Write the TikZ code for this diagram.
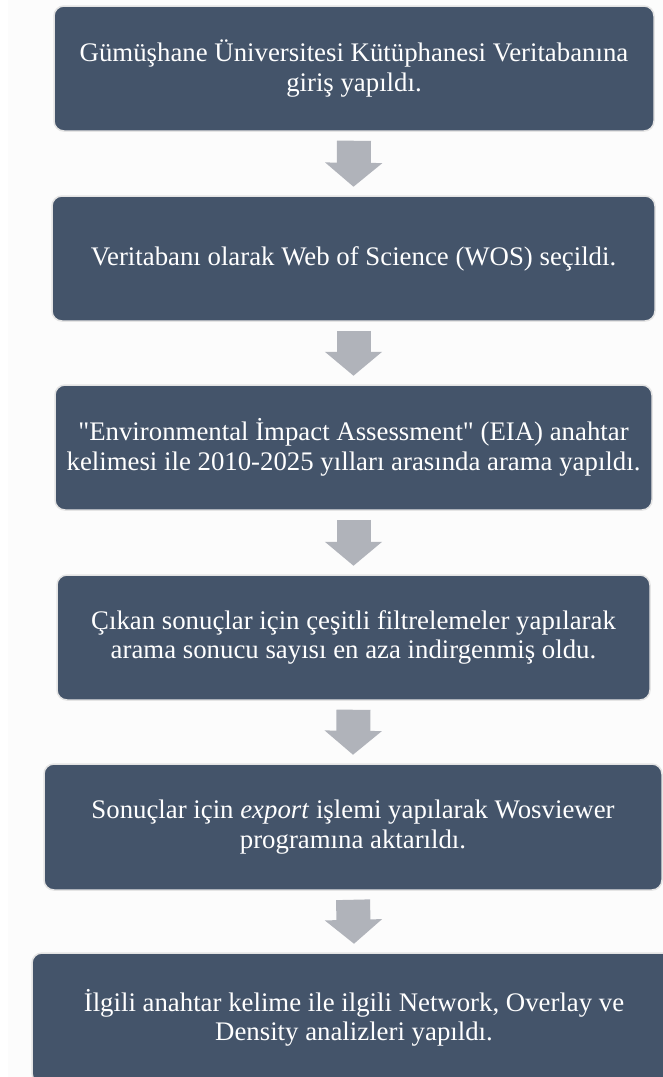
\documentclass[tikz,border=0pt]{standalone}
\usepackage{fontspec}
\setmainfont{Liberation Serif}
\usetikzlibrary{arrows.meta}

\definecolor{boxblue}{RGB}{68,84,106}
\definecolor{arrowgray}{RGB}{176,179,186}
\definecolor{rimgray}{RGB}{228,228,228}
\definecolor{pagegray}{RGB}{252,252,252}

\tikzstyle{stage}=[draw=rimgray,line width=1.5pt,fill=boxblue,rounded corners=10pt,text=white,align=center,minimum height=125pt,inner sep=0pt,font=\fontsize{26.8}{29.5}\selectfont]
\tikzstyle{flow}=[draw=arrowgray,line width=34pt,-{Triangle[width=56pt,length=24pt]}]

\begin{document}
\begin{tikzpicture}[x=1pt,y=-1pt]
    \useasboundingbox (0,0) rectangle (663,1077);
    \fill[pagegray] (8,0) rectangle (663,1077);
    % the six steps
    \node[stage,minimum width=600pt] (giris) at (354,68.5) {Gümüşhane Üniversitesi Kütüphanesi Veritabanına\\giriş yapıldı.};
    \node[stage,minimum width=603pt] (wos) at (353.5,258.5) {Veritabanı olarak Web of Science (WOS) seçildi.};
    \node[stage,minimum width=597pt] (arama) at (353.5,447.5) {\textquotedbl Environmental İmpact Assessment\textquotedbl{} (EIA) anahtar\\kelimesi ile 2010-2025 yılları arasında arama yapıldı.};
    \node[stage,minimum width=593pt] (filtre) at (353.5,637.5) {Çıkan sonuçlar için çeşitli filtrelemeler yapılarak\\arama sonucu sayısı en aza indirgenmiş oldu.};
    \node[stage,minimum width=618pt,minimum height=126pt] (aktar) at (353,827) {Sonuçlar için \textit{export} işlemi yapılarak Wosviewer\\programına aktarıldı.};
    \node[stage,minimum width=644pt,minimum height=130pt] (analiz) at (354,1018) {İlgili anahtar kelime ile ilgili Network, Overlay ve\\Density analizleri yapıldı.};
    % block arrows between the steps
    \foreach \source/\dest in {giris/wos,wos/arama,arama/filtre,filtre/aktar,aktar/analiz}
        \path[flow] ([yshift=-9pt]\source.south) -- ([yshift=8.5pt]\dest.north);
\end{tikzpicture}
\end{document}
